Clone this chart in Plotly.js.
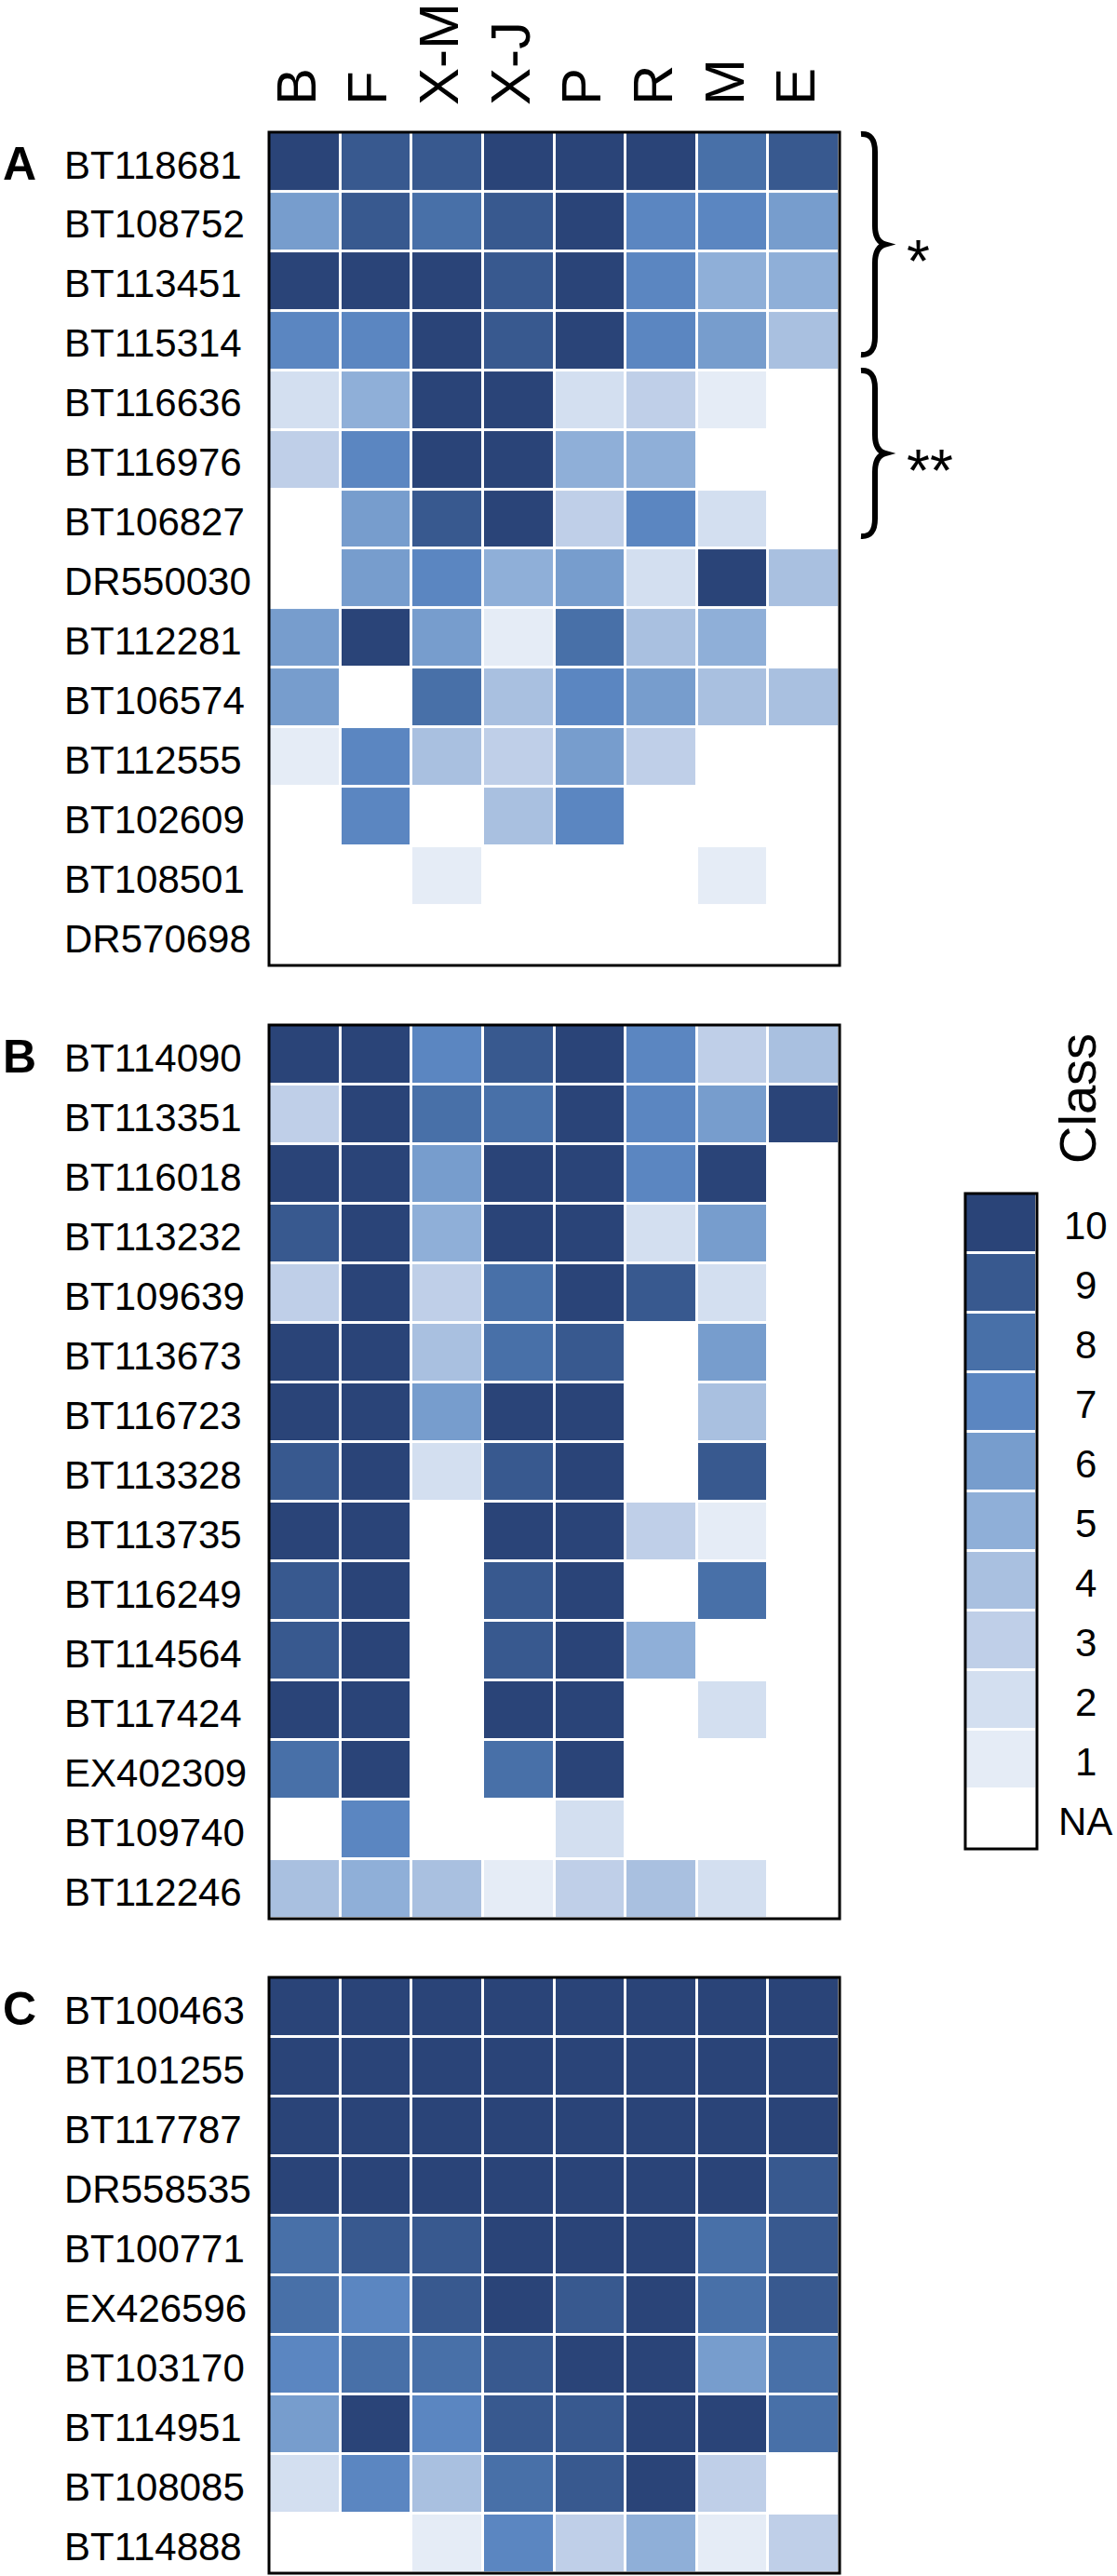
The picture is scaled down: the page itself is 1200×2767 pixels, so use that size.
<!DOCTYPE html>
<html>
<head>
<meta charset="utf-8">
<script src="https://cdn.plot.ly/plotly-3.0.1.min.js"></script>
<style>
  html, body { margin: 0; padding: 0; background: #ffffff; }
  #chart { width: 1200px; height: 2767px; }
</style>
</head>
<body>
<div id="chart"></div>
<script>
// ---------------- DATA ----------------
const columns = ['B', 'F', 'X-M', 'X-J', 'P', 'R', 'M', 'E'];

const rowsA = ['BT118681','BT108752','BT113451','BT115314','BT116636','BT116976','BT106827',
               'DR550030','BT112281','BT106574','BT112555','BT102609','BT108501','DR570698'];
const valuesA = [
  [10, 9, 9, 10, 10, 10, 8, 9],
  [6, 9, 8, 9, 10, 7, 7, 6],
  [10, 10, 10, 9, 10, 7, 5, 5],
  [7, 7, 10, 9, 10, 7, 6, 4],
  [2, 5, 10, 10, 2, 3, 1, null],
  [3, 7, 10, 10, 5, 5, null, null],
  [null, 6, 9, 10, 3, 7, 2, null],
  [null, 6, 7, 5, 6, 2, 10, 4],
  [6, 10, 6, 1, 8, 4, 5, null],
  [6, null, 8, 4, 7, 6, 4, 4],
  [1, 7, 4, 3, 6, 3, null, null],
  [null, 7, null, 4, 7, null, null, null],
  [null, null, 1, null, null, null, 1, null],
  [null, null, null, null, null, null, null, null]
];

const rowsB = ['BT114090','BT113351','BT116018','BT113232','BT109639','BT113673','BT116723',
               'BT113328','BT113735','BT116249','BT114564','BT117424','EX402309','BT109740','BT112246'];
const valuesB = [
  [10, 10, 7, 9, 10, 7, 3, 4],
  [3, 10, 8, 8, 10, 7, 6, 10],
  [10, 10, 6, 10, 10, 7, 10, null],
  [9, 10, 5, 10, 10, 2, 6, null],
  [3, 10, 3, 8, 10, 9, 2, null],
  [10, 10, 4, 8, 9, null, 6, null],
  [10, 10, 6, 10, 10, null, 4, null],
  [9, 10, 2, 9, 10, null, 9, null],
  [10, 10, null, 10, 10, 3, 1, null],
  [9, 10, null, 9, 10, null, 8, null],
  [9, 10, null, 9, 10, 5, null, null],
  [10, 10, null, 10, 10, null, 2, null],
  [8, 10, null, 8, 10, null, null, null],
  [null, 7, null, null, 2, null, null, null],
  [4, 5, 4, 1, 3, 4, 2, null]
];

const rowsC = ['BT100463','BT101255','BT117787','DR558535','BT100771','EX426596','BT103170',
               'BT114951','BT108085','BT114888'];
const valuesC = [
  [10, 10, 10, 10, 10, 10, 10, 10],
  [10, 10, 10, 10, 10, 10, 10, 10],
  [10, 10, 10, 10, 10, 10, 10, 10],
  [10, 10, 10, 10, 10, 10, 10, 9],
  [8, 9, 9, 10, 10, 10, 8, 9],
  [8, 7, 9, 10, 9, 10, 8, 9],
  [7, 8, 8, 9, 10, 10, 6, 8],
  [6, 10, 7, 9, 9, 10, 10, 8],
  [2, 7, 4, 8, 9, 10, 3, null],
  [null, null, 1, 7, 3, 5, 1, 3]
];

const legendLabels = ['10', '9', '8', '7', '6', '5', '4', '3', '2', '1', 'NA'];
const legendValues = [10, 9, 8, 7, 6, 5, 4, 3, 2, 1, null];

const panelLetters = ['A', 'B', 'C'];
const groupMarks = ['*', '**'];

// class 1 .. class 10
const classColors = ['#e5ecf6', '#d3dff0', '#bfcfe8', '#a9c0e0', '#8fafd8',
                     '#779dcd', '#5b86c1', '#4870a8', '#38598f', '#2a4478'];

// ---------------- HELPERS ----------------
const W = 1200, H = 2767;
const FONT = 'Liberation Sans, Arial, Helvetica, sans-serif';
const px = x => x / W;
const py = y => 1 - y / H;

function stepScale(colors) {
  const cs = [];
  const n = colors.length;
  colors.forEach((c, i) => { cs.push([i / n, c]); cs.push([(i + 1) / n, c]); });
  return cs;
}
const cscale = stepScale(classColors);

function hm(rows, vals, ya, xa, xs) {
  return {
    type: 'heatmap', x: xs || columns, y: rows, z: vals,
    xaxis: xa || 'x', yaxis: ya,
    zmin: 0.5, zmax: 10.5, colorscale: cscale, showscale: false,
    xgap: 3, ygap: 3, hoverinfo: 'skip'
  };
}

const legendIdx = legendLabels.map((_, i) => i);

const traces = [
  hm(rowsA, valuesA, 'y'),
  hm(rowsB, valuesB, 'y2'),
  hm(rowsC, valuesC, 'y3'),
  hm(legendIdx, legendValues.map(v => [v]), 'y4', 'x2', [0])
];

// ---------------- LAYOUT ----------------
const xDom = [px(289), px(902)];
const yDomA = [py(1037), py(142)];
const yDomB = [py(2061), py(1101)];
const yDomC = [py(2764), py(2124)];
const yDomL = [py(1986), py(1282)];
const xDomL = [px(1037), px(1114)];

function yax(dom) {
  return { domain: dom, anchor: 'x', type: 'category', autorange: 'reversed',
           showticklabels: false, showgrid: false, zeroline: false, ticks: '',
           showline: false, fixedrange: true };
}

const annotations = [];
function rowLabels(rows, yref, letter) {
  rows.forEach(r => annotations.push({
    xref: 'paper', yref: yref, x: px(67), y: r, xanchor: 'left', yanchor: 'middle',
    text: r, showarrow: false, yshift: -3,
    font: { family: FONT, size: 42, color: '#000' }
  }));
  annotations.push({
    xref: 'paper', yref: yref, x: px(1), y: rows[0], xanchor: 'left', yanchor: 'middle',
    text: '<b>' + letter + '</b>', showarrow: false, yshift: -2,
    font: { family: FONT, size: 50, color: '#000' }
  });
}
rowLabels(rowsA, 'y', panelLetters[0]);
rowLabels(rowsB, 'y2', panelLetters[1]);
rowLabels(rowsC, 'y3', panelLetters[2]);

legendLabels.forEach((l, i) => annotations.push({
  xref: 'paper', yref: 'y4', x: px(1166), y: legendIdx[i], xanchor: 'center', yanchor: 'middle',
  text: l, showarrow: false, yshift: -2,
  font: { family: FONT, size: 42, color: '#000' }
}));

annotations.push({
  xref: 'paper', yref: 'paper', x: px(1158), y: py(1180), xanchor: 'center', yanchor: 'middle',
  text: 'Class', textangle: -90, showarrow: false,
  font: { family: FONT, size: 56, color: '#000' }
});

annotations.push({
  xref: 'paper', yref: 'paper', x: px(972), y: py(265), xanchor: 'left', yanchor: 'middle',
  text: groupMarks[0], showarrow: false, yshift: -16,
  font: { family: FONT, size: 64, color: '#000' }
});
annotations.push({
  xref: 'paper', yref: 'paper', x: px(972), y: py(490), xanchor: 'left', yanchor: 'middle',
  text: groupMarks[1], showarrow: false, yshift: -16,
  font: { family: FONT, size: 64, color: '#000' }
});

function P(x, y) { return px(x).toFixed(5) + ',' + py(y).toFixed(5); }
function bracePath(top, bot, xs, xh, xt) {
  const mid = (top + bot) / 2;
  return 'M' + P(xh, top + 1) +
    ' Q' + P(xs, top) + ' ' + P(xs, top + 20) +
    ' L' + P(xs, mid - 20) +
    ' Q' + P(xs, mid - 3) + ' ' + P(xt, mid) +
    ' Q' + P(xs, mid + 3) + ' ' + P(xs, mid + 20) +
    ' L' + P(xs, bot - 20) +
    ' Q' + P(xs, bot) + ' ' + P(xh, bot - 1);
}

function border(xr, yr) {
  return { type: 'rect', xref: xr, yref: yr, x0: 0, x1: 1, y0: 0, y1: 1,
           line: { color: '#000', width: 3 }, fillcolor: 'rgba(0,0,0,0)', layer: 'above' };
}

const shapes = [
  border('x domain', 'y domain'),
  border('x domain', 'y2 domain'),
  border('x domain', 'y3 domain'),
  border('x2 domain', 'y4 domain'),
  { type: 'path', xref: 'paper', yref: 'paper', path: bracePath(143, 382, 940, 925, 951),
    line: { color: '#000', width: 6 } },
  { type: 'path', xref: 'paper', yref: 'paper', path: bracePath(397, 577, 940, 925, 951),
    line: { color: '#000', width: 6 } }
];

const layout = {
  width: W, height: H,
  margin: { l: 0, r: 0, t: 0, b: 0, pad: 0 },
  paper_bgcolor: '#ffffff', plot_bgcolor: '#ffffff',
  showlegend: false,
  xaxis: {
    domain: xDom, anchor: 'y', side: 'top', type: 'category',
    range: [-0.5, columns.length - 0.5],
    tickangle: -90, ticks: '', showgrid: false, zeroline: false, showline: false,
    tickfont: { family: FONT, size: 60, color: '#000' },
    ticklabelstandoff: 28, ticklabelshift: -8, fixedrange: true
  },
  xaxis2: {
    domain: xDomL, anchor: 'y4', type: 'linear', range: [-0.5, 0.5],
    showticklabels: false, ticks: '', showgrid: false, zeroline: false, fixedrange: true
  },
  yaxis: yax(yDomA),
  yaxis2: yax(yDomB),
  yaxis3: yax(yDomC),
  yaxis4: { domain: yDomL, anchor: 'x2', type: 'linear', range: [legendLabels.length - 0.5, -0.5],
            showticklabels: false, showgrid: false, zeroline: false, ticks: '', fixedrange: true },
  annotations: annotations,
  shapes: shapes
};

Plotly.newPlot('chart', traces, layout, { staticPlot: true, displayModeBar: false });
</script>
</body>
</html>
